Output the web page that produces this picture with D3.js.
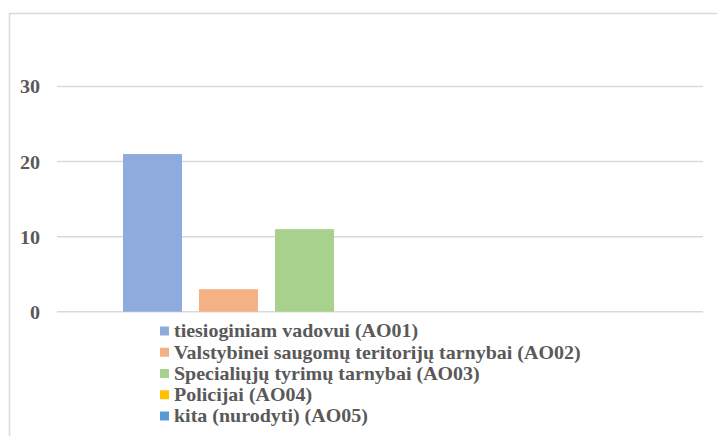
<!DOCTYPE html>
<html><head><meta charset="utf-8">
<script src="https://cdn.jsdelivr.net/npm/d3@7"></script>
<style>html,body{margin:0;padding:0;background:#fff;}svg{display:block;}
.t{font-family:"Liberation Serif","Times New Roman",serif;font-weight:bold;fill:#595959;}</style>
</head><body>
<script>
const seriesNames = [
  "tiesioginiam vadovui (AO01)",
  "Valstybinei saugomų teritorijų tarnybai (AO02)",
  "Specialiųjų tyrimų tarnybai (AO03)",
  "Policijai (AO04)",
  "kita (nurodyti) (AO05)"
];
const seriesValues = [21, 3, 11, 0, 0];
const seriesColors = ["#8faadc", "#f4b183", "#a9d18e", "#ffc000", "#5b9bd5"];
const yTicks = [0, 10, 20, 30];

const W = 717, H = 436;
const svg = d3.select("body").append("svg").attr("width", W).attr("height", H);

svg.append("path").attr("d", `M9.5,${H} L9.5,13.5 L${W},13.5`)
  .attr("fill", "none").attr("stroke", "#d9d9d9").attr("stroke-width", 1.5);

const plotL = 57, plotR = 703;
const y = d3.scaleLinear().domain([0, 30]).range([311.7, 86.5]);
const x = d3.scaleBand().domain(seriesNames).range([123, 486]).paddingInner(17 / 76).paddingOuter(0);

svg.append("g").selectAll("line").data(yTicks).join("line")
  .attr("x1", plotL).attr("x2", plotR)
  .attr("y1", d => y(d)).attr("y2", d => y(d))
  .attr("stroke", "#d9d9d9").attr("stroke-width", 1.5);

const yAxis = d3.axisLeft(y).tickValues(yTicks).tickSize(0).tickPadding(0);
const ga = svg.append("g").attr("transform", "translate(40,0)").call(yAxis);
ga.select(".domain").remove();
ga.attr("font-family", null).attr("font-size", null);
ga.selectAll("text").attr("class", "t").style("font-size", "19px").attr("fill", null)
  .attr("x", 0).attr("dy", "0.34em")
  .attr("transform", "scale(1.06,1)");

svg.append("g").selectAll("rect").data(seriesNames).join("rect")
  .attr("x", d => x(d)).attr("width", x.bandwidth())
  .attr("y", (d, i) => y(seriesValues[i]))
  .attr("height", (d, i) => y(0) - y(seriesValues[i]))
  .attr("fill", (d, i) => seriesColors[i]);

const leg = svg.append("g");
const rowY = d3.scaleLinear().domain([0, 4]).range([331, 416]);
const items = leg.selectAll("g").data(seriesNames).join("g")
  .attr("transform", (d, i) => `translate(160,${rowY(i)})`);
items.append("rect").attr("x", 0).attr("y", -4.5).attr("width", 9).attr("height", 9)
  .attr("fill", (d, i) => seriesColors[i]);
items.append("text").attr("class", "t").attr("dy", "0.34em")
  .attr("transform", "translate(14,0) scale(1.08,1)")
  .style("font-size", "18.5px").text(d => d);
</script>
</body></html>
